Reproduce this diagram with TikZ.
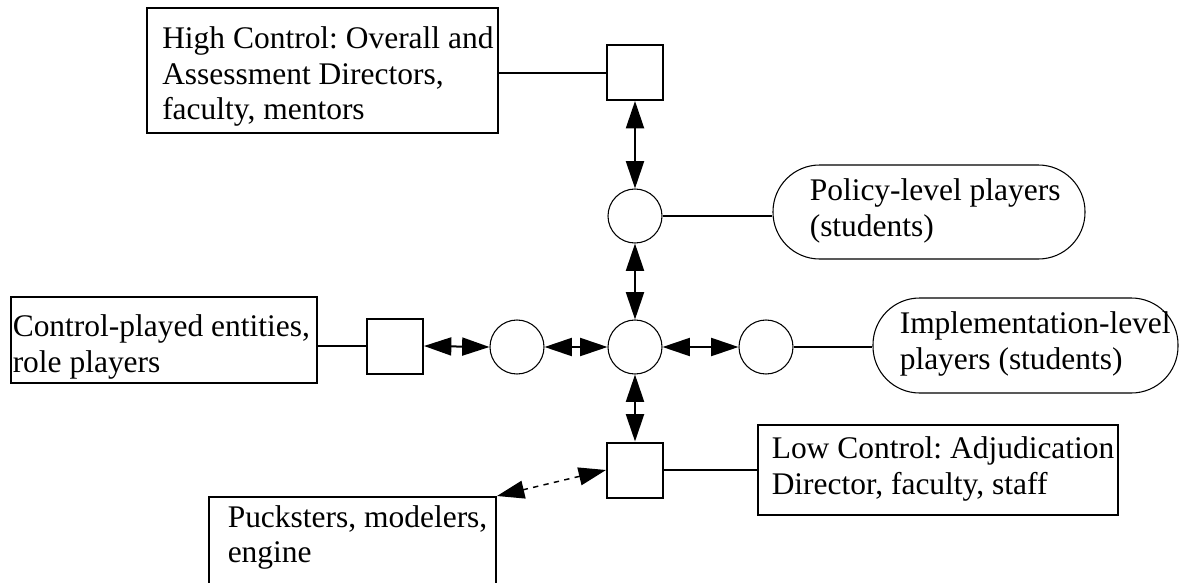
\documentclass[tikz,border=0pt]{standalone}
\usepackage{fontspec}
\setmainfont{Liberation Serif}
\usetikzlibrary{arrows.meta}
\begin{document}
\frenchspacing
\begin{tikzpicture}[x=0.75pt,y=-0.75pt,
  boxframe/.style={draw, line width=1.5pt, inner sep=0pt, rectangle},
  txt/.style={font=\fontsize{23.6}{26.6}\selectfont, align=left, anchor=north west, inner sep=0pt},
  sqnode/.style={draw, line width=1.5pt, inner sep=0pt, minimum width=42pt, minimum height=41.25pt},
  circnode/.style={draw, circle, line width=0.8pt, inner sep=0pt, minimum size=40.5pt},
  pill/.style={draw, line width=0.8pt, inner sep=0pt, rounded corners=35pt},
  link/.style={line width=1.5pt},
  tipA/.tip={Triangle[length=20.5pt 0 0,width=13.5pt 0 0]},
  dbl/.style={line width=1.5pt, tipA-tipA},
  dashdbl/.style={line width=1.1pt, dash pattern=on 4pt off 4pt, tipA-tipA}
]
\useasboundingbox (0,0) rectangle (1181,582);
\begin{scope}
\clip (0,0) rectangle (1181,582);
% boxes
\node[boxframe, minimum width=263.25pt, minimum height=93.75pt] (high) at (322.5,70.5) {};
\node[boxframe, minimum width=229.5pt, minimum height=64.5pt] (ctrl) at (164,340) {};
\node[boxframe, minimum width=270pt, minimum height=67.5pt] (low) at (938,470) {};
\node[boxframe, minimum width=215.25pt, minimum height=92.25pt] (puck) at (352.5,558.5) {};
% pills
\node[pill, minimum width=234pt, minimum height=70.5pt] (polpill) at (929,212) {};
\node[pill, minimum width=228.75pt, minimum height=71.25pt] (implpill) at (1025.5,345.5) {};
% squares and circles
\node[sqnode] (hsq) at (635,72.5) {};
\node[sqnode] (lsq) at (395,346) {};
\node[sqnode] (lowsq) at (635,470) {};
\node[circnode] (pol) at (635,216) {};
\node[circnode] (cen) at (635,347) {};
\node[circnode] (rc) at (766,347) {};
\node[circnode] (lc) at (517,347) {};
% texts
\node[txt] (hightext) at (162,26.5) {High Control: Overall and\\Assessment Directors,\\faculty, mentors};
\node[txt] (ctrltext) at (12.5,314.5) {Control-played entities,\\role players};
\node[txt] (pucktext) at (227.5,505.2) {Pucksters, modelers,\\engine};
\node[txt] (lowtext) at (771.5,436.5) {Low Control: Adjudication\\Director, faculty, staff};
\node[txt] (poltext) at (809.5,178.5) {Policy-level players\\(students)};
\node[txt] (impltext) at (899.5,311.5) {Implementation-level\\players (students)};
% plain links
\draw[link] (high.east |- hsq.west) -- (hsq.west);
\draw[link] (ctrl.east |- lsq.west) -- (lsq.west);
\draw[link] (pol.east) -- (polpill.west |- pol.east);
\draw[link] (rc.east) -- (implpill.west |- rc.east);
\draw[link] (lowsq.east) -- (low.west |- lowsq.east);
% double arrows
\draw[dbl] (hsq.south) -- (pol.north);
\draw[dbl] (pol.south) -- (cen.north);
\draw[dbl] (cen.south) -- (lowsq.north);
\draw[dbl] (lsq.east) -- (lc.west);
\draw[dbl] (lc.east) -- (cen.west);
\draw[dbl] (cen.east) -- (rc.west);
\draw[dashdbl] (lowsq.west) -- (puck.north east);
\end{scope}
\end{tikzpicture}
\end{document}
